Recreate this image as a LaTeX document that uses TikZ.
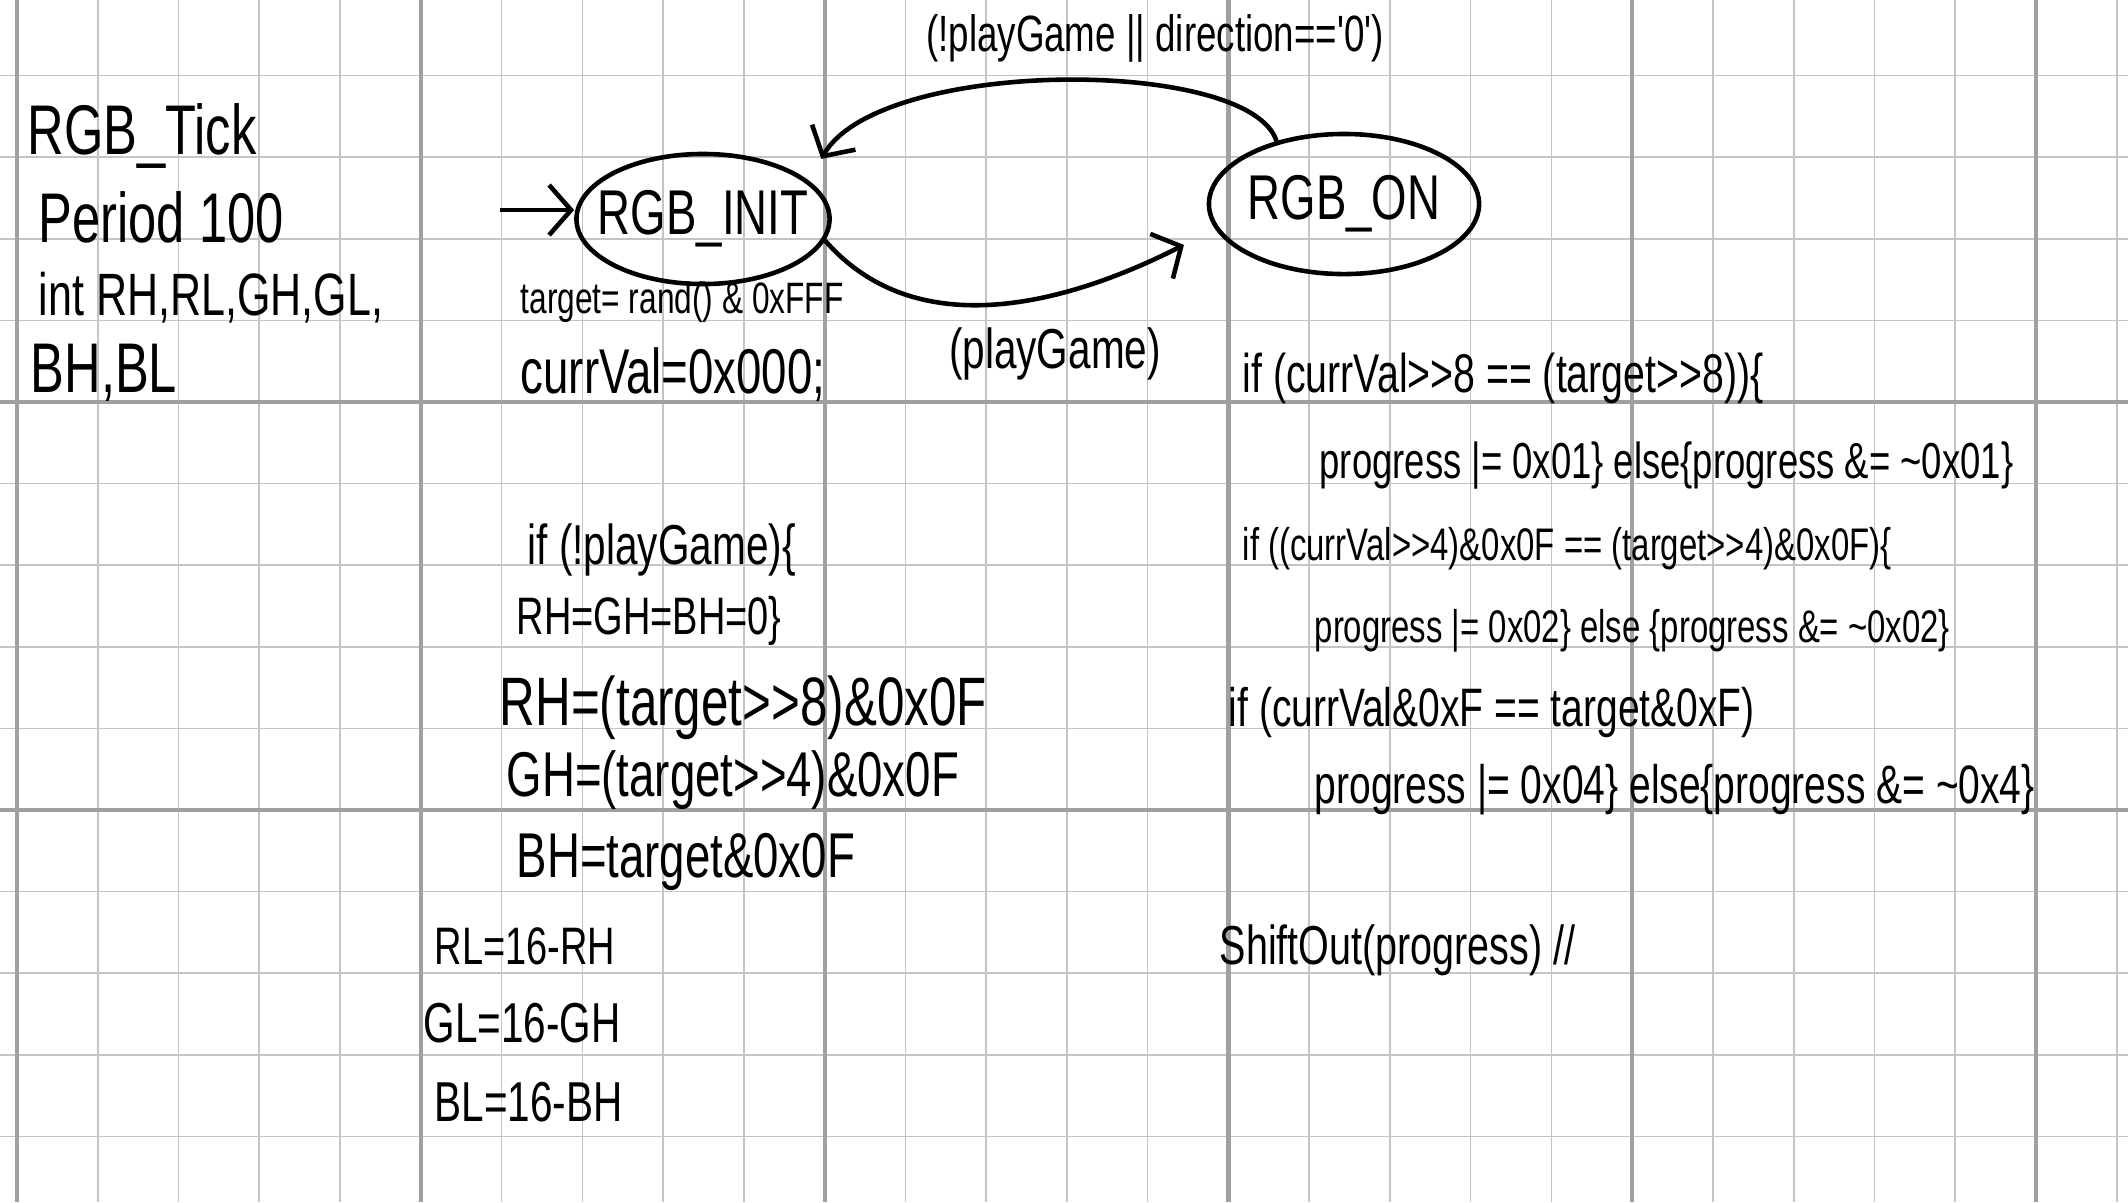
\documentclass[tikz,border=0pt]{standalone}
\usepackage{fontspec}
\setmainfont{Liberation Sans}[FakeStretch=0.72, Ligatures=TeXOff]
\usepackage{xcolor}
\usepackage{tikz}
\usetikzlibrary{arrows.meta, shapes.geometric}

\definecolor{gridminor}{RGB}{196,196,196}
\definecolor{gridmajor}{RGB}{160,160,164}

\begin{document}
\begin{tikzpicture}[
        x=0.01cm, y=0.01cm, yscale=-1, % pixel units, y grows downward
        every node/.style={inner sep=0pt},
        hw/.style={font=\fontsize{#1}{#1}\selectfont, anchor=west},
        state/.style={ellipse, draw, line width=1.3pt, inner xsep=-1.7mm, font=\fontsize{18}{18}\selectfont},
        arr/.style={-{Straight Barb[length=2.2mm, width=5mm]}, line width=1.3pt},
        minor/.style={gridminor, line width=0.45pt},
        major/.style={gridmajor, line width=1.2pt}
    ]
        % Paper and grid
        \fill[white] (0,0) rectangle (2128,1202);
        \useasboundingbox (0,0) rectangle (2128,1202);
        \foreach \k in {0,...,26} \draw[minor] ({17+80.76*\k},0) -- ({17+80.76*\k},1202);
        \foreach \k in {-4,...,9} \draw[minor] (0,{402+81.6*\k}) -- (2128,{402+81.6*\k});
        \foreach \k in {0,5,...,25} \draw[major] ({17+80.76*\k},0) -- ({17+80.76*\k},1202);
        \foreach \k in {0,5} \draw[major] (0,{402+81.6*\k}) -- (2128,{402+81.6*\k});

        % Task header
        \node[hw=20] (tick_name) at (27,136) {RGB\_Tick};
        \node[hw=20] (tick_period) at (38,217) {Period 100};
        \node[hw=17] (tick_vars) at (38,298) {int RH,RL,GH,GL,};
        \node[hw=20] (tick_vars2) at (30,373) {BH,BL};

        % States
        \node[state, minimum width=2.53cm, minimum height=1.3cm] (init_state) at (703,219) {RGB\_INIT};
        \node[state, minimum width=2.7cm, minimum height=1.4cm] (on_state) at (1344,204) {RGB\_ON};
        \coordinate (start_pt) at (500,210);

        % Transitions
        \draw[arr] (start_pt) -- (start_pt -| init_state.west);
        \draw[arr, shorten >=2.5mm] (on_state.137) .. controls (1250,57) and (880,57) .. (init_state.20);
        \draw[arr, shorten >=3.5mm] (init_state.-10) .. controls (924,354) and (1089,293) .. (on_state.191);
        \node[font=\fontsize{14.5}{14.5}\selectfont] (lbl_back) at (1155,38) {(!playGame || direction=='0')};
        \node[font=\fontsize{16}{16}\selectfont] (lbl_go) at (1055,354) {(playGame)};

        % Init actions
        \node[hw=12.5] (init_act1) at (520,302) {target= rand() \& 0xFFF};
        \node[hw=18] (init_act2) at (520,375) {currVal=0x000;};

        % On actions, left column
        \node[hw=16] (on_l1) at (527,550) {if (!playGame)\{};
        \node[hw=15] (on_l2) at (516,621) {RH=GH=BH=0\}};
        \node[hw=19.5] (on_l3) at (499,708) {RH=(target>>8)\&0x0F};
        \node[hw=18] (on_l4) at (506,780) {GH=(target>>4)\&0x0F};
        \node[hw=18] (on_l5) at (516,862) {BH=target\&0x0F};
        \node[hw=15] (on_l6) at (434,946) {RL=16-RH};
        \node[hw=16] (on_l7) at (423,1023) {GL=16-GH};
        \node[hw=16] (on_l8) at (434,1102) {BL=16-BH};

        % On actions, right column
        \node[hw=15.5] (on_r1) at (1242,378) {if (currVal>>8 == (target>>8))\{};
        \node[hw=14.4] (on_r2) at (1319,465) {progress |= 0x01\} else\{progress \&= \textasciitilde0x01\}};
        \node[hw=13] (on_r3) at (1242,549) {if ((currVal>>4)\&0x0F == (target>>4)\&0x0F)\{};
        \node[hw=13] (on_r4) at (1314,631) {progress |= 0x02\} else \{progress \&= \textasciitilde0x02\}};
        \node[hw=15.4] (on_r5) at (1228,712) {if (currVal\&0xF == target\&0xF)};
        \node[hw=15.4] (on_r6) at (1314,790) {progress |= 0x04\} else\{progress \&= \textasciitilde0x4\}};
        \node[hw=15.6] (on_r7) at (1219,950) {ShiftOut(progress) //};

    \end{tikzpicture}
\end{document}
